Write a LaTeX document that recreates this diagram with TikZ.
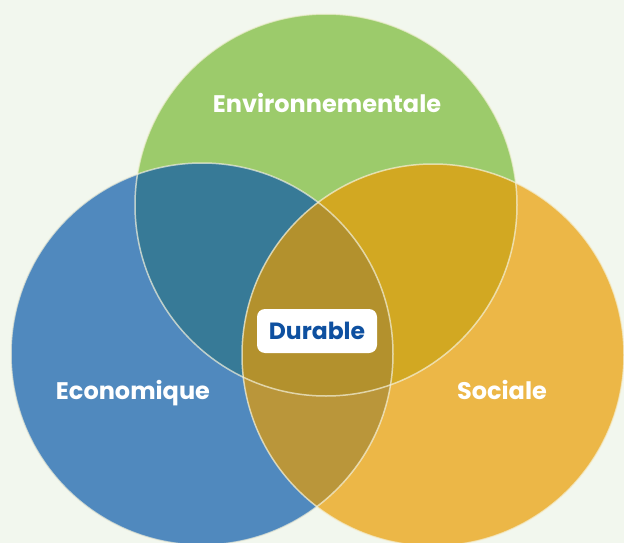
\documentclass[tikz,border=0pt]{standalone}
\usepackage{fontspec}
\setmainfont{Poppins}
\definecolor{bgcol}{HTML}{F2F7EE}
\definecolor{envcol}{HTML}{9CCB6B}
\definecolor{ecocol}{HTML}{5089BE}
\definecolor{soccol}{HTML}{ECB747}
\definecolor{ecoenv}{HTML}{377A97}
\definecolor{envsoc}{HTML}{D2A822}
\definecolor{ecosoc}{HTML}{BA963A}
\definecolor{allcol}{HTML}{B3912D}
\definecolor{durtext}{HTML}{0E50A0}
\definecolor{rimcol}{HTML}{F4F2DC}
\tikzset{
  rim/.style={draw=rimcol,opacity=0.7,line width=1.5pt},
  lbl/.style={text=white,font=\bfseries\fontsize{24}{28}\selectfont,anchor=base},
  durbox/.style={fill=white,rounded corners=8pt,minimum width=120pt,minimum height=44pt,
    text=durtext,font=\bfseries\fontsize{23.5}{26}\selectfont}
}
\begin{document}
\begin{tikzpicture}[x=1pt,y=-1pt]
\fill[bgcol] (0,0) rectangle (624,543);
\useasboundingbox (0,0) rectangle (624,543);

% the three circles
\fill[envcol] (326,205) circle [radius=191];
\fill[ecocol] (202,354) circle [radius=191];
\fill[soccol] (433,355) circle [radius=191];

% overlaps
\begin{scope}
\clip (326,205) circle [radius=191];
\fill[ecoenv] (202,354) circle [radius=191];
\fill[envsoc] (433,355) circle [radius=191];
\end{scope}
\begin{scope}
\clip (202,354) circle [radius=191];
\fill[ecosoc] (433,355) circle [radius=191];
\clip (433,355) circle [radius=191];
\fill[allcol] (326,205) circle [radius=191];
\end{scope}

% rims
\draw[rim] (326,205) circle [radius=191];
\draw[rim] (202,354) circle [radius=191];
\draw[rim] (433,355) circle [radius=191];

\node[lbl] (env) at (327,113) {Environnementale};
\node[lbl] (eco) at (133,399) {Economique};
\node[lbl] (soc) at (502,399) {Sociale};
\node[durbox] (dur) at (317,331) {Durable};
\end{tikzpicture}
\end{document}
